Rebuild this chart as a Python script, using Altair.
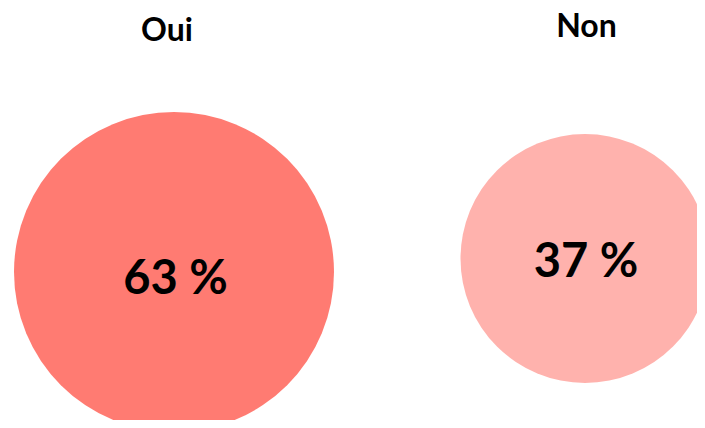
import altair as alt
import pandas as pd

categories = ["Oui", "Non"]
values = [63, 37]
labels = ["63 %", "37 %"]
colors = ["#FF7B72", "#FFB2AD"]

df = pd.DataFrame({"cat": categories, "value": values, "label": labels})

base = alt.Chart(df)

circles = base.mark_circle(opacity=1, stroke=None).encode(
    x=alt.X("cat:N", axis=None, scale=alt.Scale(type="point", domain=categories, range=[166, 577], padding=0)),
    y=alt.Y("cat:N", axis=None, scale=alt.Scale(type="point", domain=categories, range=[264, 250.5], padding=0)),
    size=alt.Size("value:Q", legend=None, scale=alt.Scale(domain=[37, 63], range=[62000, 102400])),
    color=alt.Color("cat:N", legend=None, scale=alt.Scale(domain=categories, range=colors)),
)

pct = base.mark_text(font="Lato", fontWeight="bold", fontSize=47, color="black",
                     align="center", baseline="alphabetic").encode(
    x=alt.X("cat:N", axis=None, scale=alt.Scale(type="point", domain=categories, range=[167.5, 578], padding=0)),
    y=alt.Y("cat:N", axis=None, scale=alt.Scale(type="point", domain=categories, range=[286, 269], padding=0)),
    text="label:N",
)

titles = base.mark_text(font="Lato", fontWeight="bold", fontSize=32, color="black",
                        align="center", baseline="alphabetic").encode(
    x=alt.X("cat:N", axis=None, scale=alt.Scale(type="point", domain=categories, range=[159, 578.5], padding=0)),
    y=alt.Y("cat:N", axis=None, scale=alt.Scale(type="point", domain=categories, range=[33, 29], padding=0)),
    text="cat:N",
)

chart = alt.layer(circles, pct, titles).resolve_scale(x="independent", y="independent").properties(
    width=689, height=412, autosize=alt.AutoSizeParams(type="none"), padding=0
).configure_view(stroke=None)

chart.save("out.html", embed_options={"renderer": "svg", "actions": False})
